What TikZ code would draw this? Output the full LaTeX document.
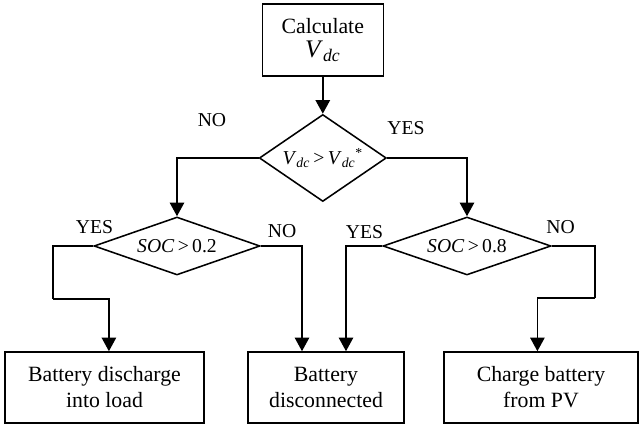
\documentclass[tikz,border=0pt]{standalone}
\usepackage{fontspec}
\setmainfont{Liberation Serif}
\usetikzlibrary{shapes.geometric,arrows.meta}

\newcommand{\vdc}{\textit{V}\textsubscript{\textit{dc}}}

\tikzset{
  box/.style={draw, line width=1.1pt, rectangle, align=center, minimum height=1.775cm,
    font=\fontsize{15.5}{18.5}\selectfont},
  decision/.style={draw, line width=1.1pt, diamond, inner sep=0pt, minimum height=1.45cm,
    aspect=2.86, font=\fontsize{14}{16}\selectfont},
  lbl/.style={font=\fontsize{14}{16}\selectfont},
  arr/.style={line width=1.1pt, -{Triangle[width=0.36cm,length=0.34cm]}},
  ln/.style={line width=1.1pt}
}

\begin{document}
\begin{tikzpicture}
  \useasboundingbox (0,0) rectangle (16.025,10.775);

  % nodes
  \node[box, minimum width=3.025cm, minimum height=1.8cm] (calc) at (8.07,9.775)
    {Calculate\\[-1pt]{\fontsize{18}{20}\selectfont\vdc}};
  \node[decision, minimum width=3.175cm, minimum height=2.175cm, aspect=1.46] (vcheck) at (8.07,6.825)
    {\vdc\,>\,\vdc\textsuperscript{*}};
  \node[decision, minimum width=4.15cm] (soclow) at (4.425,4.625) {\textit{SOC}\,>\,0.2};
  \node[decision, minimum width=4.2cm, aspect=2.9] (sochigh) at (11.675,4.625) {\textit{SOC}\,>\,0.8};

  \node[box, minimum width=4.975cm] (discharge) at (2.6125,1.0875) {Battery discharge\\into load};
  \node[box, minimum width=3.9cm] (disconn) at (8.15,1.0875) {Battery\\disconnected};
  \node[box, minimum width=4.85cm] (charge) at (13.525,1.0875) {Charge battery\\from PV};

  % bends
  \coordinate (j1) at (1.325,3.3);
  \coordinate (j2) at (14.875,3.325);

  % connectors
  \draw[arr] (calc.south) -- (vcheck.north);
  \draw[arr] (vcheck.west) -| (soclow.north);
  \draw[arr] (vcheck.east) -| (sochigh.north);
  \draw[ln] (soclow.west) -| (j1);
  \draw[arr] (j1) -| ([xshift=0.11cm]discharge.north);
  \draw[arr] (soclow.east) -| ([xshift=-0.6cm]disconn.north);
  \draw[arr] (sochigh.west) -| ([xshift=0.5cm]disconn.north);
  \draw[ln] (sochigh.east) -| (j2);
  \draw[arr] (j2) -| ([xshift=-0.09cm]charge.north);

  % labels
  \node[lbl] (no1) at (5.3,7.775) {NO};
  \node[lbl] (yes1) at (10.15,7.575) {YES};
  \node[lbl] (yes2) at (2.3625,5.1) {YES};
  \node[lbl] (no2) at (7.05,5.0) {NO};
  \node[lbl] (yes3) at (9.1125,4.975) {YES};
  \node[lbl] (no3) at (14.0125,5.1) {NO};
\end{tikzpicture}
\end{document}
